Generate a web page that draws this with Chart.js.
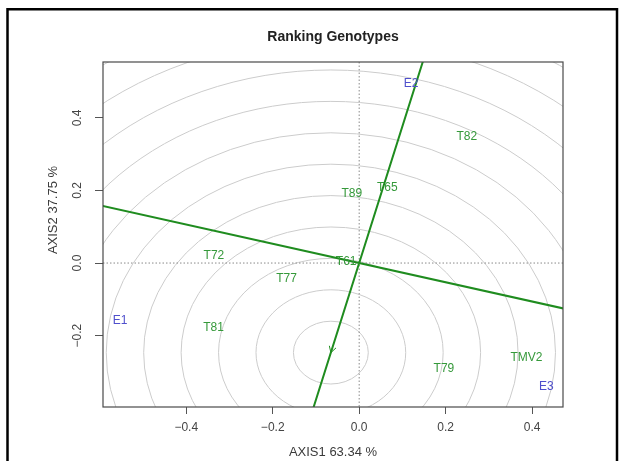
<!DOCTYPE html>
<html>
<head>
<meta charset="utf-8">
<script src="https://cdn.jsdelivr.net/npm/chart.js@4.4.1/dist/chart.umd.min.js"></script>
<style>
  html, body { margin: 0; padding: 0; background: #ffffff; }
  #wrap { width: 622px; height: 461px; position: relative; }
</style>
</head>
<body>
<div id="wrap"><canvas id="c" width="622" height="461"></canvas></div>
<script>
// Genotype scores on the first two principal axes
const genotypes = ['T82', 'T89', 'T65', 'T72', 'T61', 'T77', 'T81', 'T79', 'TMV2'];
const genoX = [0.249, -0.017, 0.065, -0.336, -0.030, -0.168, -0.337, 0.196, 0.387];
const genoY = [0.348, 0.191, 0.207, 0.020, 0.004, -0.044, -0.179, -0.291, -0.262];

// Environment scores
const environments = ['E1', 'E2', 'E3'];
const envX = [-0.553, 0.120, 0.433];
const envY = [-0.159, 0.494, -0.342];

// Ideal genotype point (centre of the ranking circles) and ring spacing
const idealPoint = [-0.0655, -0.247];
const ringStep = 0.0866;
const ringCount = 12;

// Axes
const xTicks = [-0.4, -0.2, 0.0, 0.2, 0.4];
const yTicks = [-0.2, 0.0, 0.2, 0.4];
const xRange = [-0.5926, 0.4715];
const yRange = [-0.397, 0.5544];
const xTitle = 'AXIS1 63.34 %';
const yTitle = 'AXIS2 37.75 %';
const chartTitle = 'Ranking Genotypes';

const FONT = '"Liberation Sans", Arial, Helvetica, sans-serif';
const GREEN_LINE = '#1f8c1f';
const GREEN_TEXT = '#35993a';
const BLUE_TEXT = '#4f4fcc';

const fmt = v => (Math.abs(v) < 1e-9 ? '0.0' : v.toFixed(1)).replace('-', '\u2212');

const biplotLayers = {
  id: 'biplotLayers',
  beforeDatasetsDraw(chart) {
    const { ctx, chartArea: a, scales: { x, y } } = chart;
    const px = v => x.getPixelForValue(v);
    const py = v => y.getPixelForValue(v);
    ctx.save();
    ctx.beginPath();
    ctx.rect(a.left, a.top, a.right - a.left, a.bottom - a.top);
    ctx.clip();

    // concentric rings around the ideal genotype
    const cx = px(idealPoint[0]), cy = py(idealPoint[1]);
    const ux = px(1) - px(0), uy = py(0) - py(1);
    ctx.strokeStyle = '#cccccc';
    ctx.lineWidth = 1;
    for (let k = 1; k <= ringCount; k++) {
      ctx.beginPath();
      ctx.ellipse(cx, cy, k * ringStep * ux, k * ringStep * uy, 0, 0, Math.PI * 2);
      ctx.stroke();
    }

    // dotted reference lines through the origin
    ctx.strokeStyle = '#8a8a8a';
    ctx.setLineDash([1.5, 2]);
    ctx.beginPath();
    ctx.moveTo(a.left, py(0)); ctx.lineTo(a.right, py(0));
    ctx.moveTo(px(0), a.top); ctx.lineTo(px(0), a.bottom);
    ctx.stroke();
    ctx.setLineDash([]);

    // axis through the origin and the ideal point, and its perpendicular
    const [ix, iy] = idealPoint;
    const far = 20;
    ctx.strokeStyle = GREEN_LINE;
    ctx.lineWidth = 2;
    ctx.beginPath();
    ctx.moveTo(px(-ix * far), py(-iy * far));
    ctx.lineTo(px(ix * far), py(iy * far));
    ctx.moveTo(px(iy * far), py(-ix * far));
    ctx.lineTo(px(-iy * far), py(ix * far));
    ctx.stroke();

    // arrow head at the ideal point
    const dx = cx - px(0), dy = cy - py(0);
    const len = Math.hypot(dx, dy);
    const ex = dx / len, ey = dy / len;
    const ah = 7, ang = Math.PI / 6;
    ctx.lineWidth = 1;
    ctx.beginPath();
    for (const s of [1, -1]) {
      const c = Math.cos(ang), sn = Math.sin(ang) * s;
      const rx = -(ex * c - ey * sn), ry = -(ex * sn + ey * c);
      ctx.moveTo(cx, cy);
      ctx.lineTo(cx + rx * ah, cy + ry * ah);
    }
    ctx.stroke();
    ctx.restore();
  },
  afterDatasetsDraw(chart) {
    const { ctx, chartArea: a } = chart;
    ctx.save();
    ctx.font = '12px ' + FONT;
    ctx.textAlign = 'center';
    ctx.textBaseline = 'middle';
    chart.data.datasets.forEach((ds, di) => {
      const meta = chart.getDatasetMeta(di);
      ctx.fillStyle = ds.labelColor;
      meta.data.forEach((pt, i) => ctx.fillText(ds.names[i], pt.x, pt.y));
    });
    // plot frame
    ctx.strokeStyle = '#4a4a4a';
    ctx.lineWidth = 1.2;
    ctx.strokeRect(a.left, a.top, a.right - a.left, a.bottom - a.top);
    ctx.restore();
  },
  afterDraw(chart) {
    const { ctx, chartArea: a, scales: { y } } = chart;
    ctx.save();
    ctx.textAlign = 'center';
    ctx.textBaseline = 'middle';
    ctx.fillStyle = '#222';
    ctx.font = 'bold 14px ' + FONT;
    ctx.fillText(chartTitle, (a.left + a.right) / 2, 37);

    ctx.fillStyle = '#3a3a3a';
    ctx.font = '13px ' + FONT;
    ctx.fillText(xTitle, (a.left + a.right) / 2, 452);

    // vertical axis tick labels, rotated
    ctx.font = '12px ' + FONT;
    ctx.fillStyle = '#444';
    yTicks.forEach(v => {
      ctx.save();
      ctx.translate(78, y.getPixelForValue(v));
      ctx.rotate(-Math.PI / 2);
      ctx.fillText(fmt(v), 0, 0);
      ctx.restore();
    });
    ctx.save();
    ctx.font = '13px ' + FONT;
    ctx.fillStyle = '#3a3a3a';
    ctx.translate(53, 210);
    ctx.rotate(-Math.PI / 2);
    ctx.fillText(yTitle, 0, 0);
    ctx.restore();

    // outer figure frame (runs off the bottom edge)
    ctx.strokeStyle = '#000';
    ctx.lineWidth = 2.5;
    ctx.strokeRect(7.5, 9.25, 609.5, 460);
    ctx.restore();
  }
};

new Chart(document.getElementById('c'), {
  type: 'scatter',
  data: {
    datasets: [
      {
        label: 'Genotypes',
        names: genotypes,
        labelColor: GREEN_TEXT,
        data: genotypes.map((g, i) => ({ x: genoX[i], y: genoY[i] })),
        pointRadius: 0, pointHoverRadius: 0
      },
      {
        label: 'Environments',
        names: environments,
        labelColor: BLUE_TEXT,
        data: environments.map((e, i) => ({ x: envX[i], y: envY[i] })),
        pointRadius: 0, pointHoverRadius: 0
      }
    ]
  },
  options: {
    responsive: false,
    animation: false,
    devicePixelRatio: 1,
    events: [],
    layout: { padding: { top: 62, right: 59, left: 0, bottom: 0 } },
    plugins: { legend: { display: false }, tooltip: { enabled: false }, title: { display: false } },
    scales: {
      x: {
        type: 'linear', position: 'bottom',
        min: xRange[0], max: xRange[1],
        afterBuildTicks: s => { s.ticks = xTicks.map(v => ({ value: v })); },
        afterFit: s => { s.height = 54; },
        grid: { drawOnChartArea: false, drawTicks: true, tickLength: 7, color: '#555', lineWidth: 1 },
        border: { display: false },
        ticks: { autoSkip: false, maxRotation: 0, padding: 6, color: '#444', font: { size: 12, family: FONT }, callback: v => fmt(v) }
      },
      y: {
        type: 'linear', position: 'left',
        min: yRange[0], max: yRange[1],
        afterBuildTicks: s => { s.ticks = yTicks.map(v => ({ value: v })); },
        afterFit: s => { s.width = 103; },
        grid: { drawOnChartArea: false, drawTicks: true, tickLength: 8, color: '#555', lineWidth: 1 },
        border: { display: false },
        ticks: { display: false }
      }
    }
  },
  plugins: [biplotLayers]
});
</script>
</body>
</html>
